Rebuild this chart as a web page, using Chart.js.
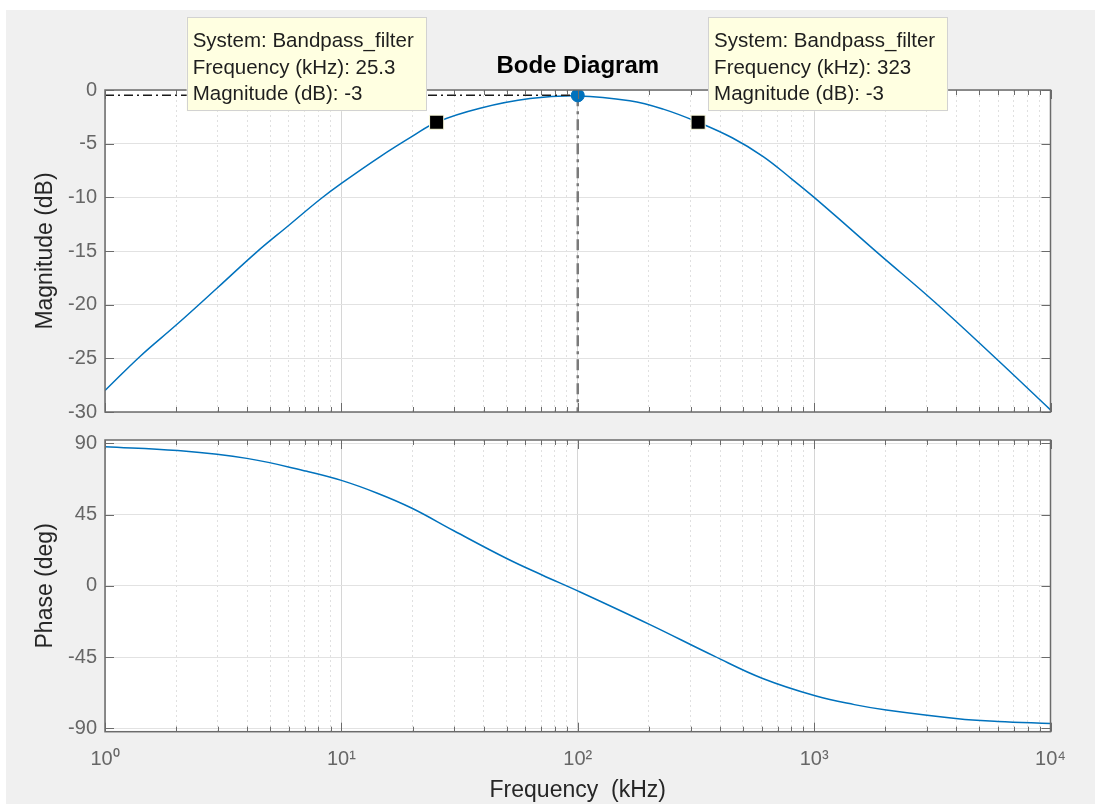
<!DOCTYPE html>
<html>
<head>
<meta charset="utf-8">
<title>Bode Diagram</title>
<script src="https://cdn.jsdelivr.net/npm/chart.js"></script>
<style>
  html, body { margin: 0; padding: 0; background: #fff; }
  body { width: 1095px; height: 805px; position: relative; overflow: hidden; }
  #fig { position: absolute; left: 6px; top: 10px; width: 1089px; height: 794px; background: #f0f0f0; }
  canvas { position: absolute; left: 0; }
  #magChart { top: 0; }
  #phaseChart { top: 420px; }
</style>
</head>
<body>
<div id="fig"></div>
<canvas id="magChart" width="1095" height="432"></canvas>
<canvas id="phaseChart" width="1095" height="385"></canvas>
<script>
// values (frequency in kHz)
const magFreq = [1, 1.41, 2, 3, 4.38, 6, 8.11, 10, 14.6, 20, 25.3, 38.6, 62.8, 100, 166, 230, 323, 450, 609, 800, 1000, 1400, 1862, 3235, 5806, 10000];
const magDb   = [-28, -24.8, -21.9, -18.4, -15.1, -12.6, -10.2, -8.7, -6.2, -4.3, -3, -1.7, -0.8, -0.55, -1, -1.78, -3, -4.45, -6.2, -8.25, -10, -12.8, -15.2, -19.75, -24.9, -29.8];

const phaseFreq = [1, 2.03, 3.98, 7.16, 10, 14.2, 19.9, 29.9, 50.3, 71, 101, 202, 378, 606, 1019, 1479, 2019, 4063, 5993, 10000];
const phaseDeg  = [87.9, 85.4, 80.5, 72.3, 66.6, 58.5, 49, 34.8, 17.1, 6.7, -3.5, -24.5, -44.4, -58.5, -69.6, -75, -78.4, -83.9, -85.6, -87];

const decades = [1, 10, 100, 1000, 10000];
const decadeLabels = ['10⁰', '10¹', '10²', '10³', '10⁴'];
const magTicks = [0, -5, -10, -15, -20, -25, -30];
const phaseTicks = [90, 45, 0, -45, -90];

const systemName = 'Bandpass_filter';
const tipFreq = [25.3, 323];
const tipDb = [-3, -3];
const peakFreq = 100;
const peakDb = -0.5;

const blue = '#0072BD';
const fontName = '"Liberation Sans", Arial, Helvetica, sans-serif';

// 1..9 x each decade
const logTicks = [];
decades.slice(0, -1).forEach(d => { for (let m = 1; m < 10; m++) logTicks.push(m * d); });
logTicks.push(decades[decades.length - 1]);

function pts(xs, ys) { return xs.map((x, i) => ({x: x, y: ys[i]})); }

const whiteArea = {
  id: 'whiteArea',
  beforeDraw(chart) {
    const {ctx, chartArea: a} = chart;
    ctx.save();
    ctx.fillStyle = '#fff';
    ctx.fillRect(a.left, a.top, a.right - a.left, a.bottom - a.top);
    ctx.restore();
  }
};

const matlabBox = {
  id: 'matlabBox',
  afterDraw(chart) {
    const {ctx, chartArea: a, scales} = chart;
    ctx.save();
    ctx.strokeStyle = '#6b6b6b';
    ctx.lineWidth = 1;
    const line = (x1, y1, x2, y2) => { ctx.beginPath(); ctx.moveTo(x1, y1); ctx.lineTo(x2, y2); ctx.stroke(); };
    scales.x.ticks.forEach(t => {
      const px = Math.round(scales.x.getPixelForValue(t.value)) + 0.5;
      const len = decades.includes(t.value) ? 9 : 5;
      line(px, a.bottom, px, a.bottom - len);
      line(px, a.top, px, a.top + len);
    });
    scales.y.ticks.forEach(t => {
      const py = Math.round(scales.y.getPixelForValue(t.value)) + 0.5;
      line(a.left, py, a.left + 9, py);
      line(a.right, py, a.right - 9, py);
    });
    ctx.lineWidth = 1.5;
    ctx.strokeRect(a.left, a.top, a.right - a.left, a.bottom - a.top);
    ctx.restore();
  }
};

const dataTips = {
  id: 'dataTips',
  afterDraw(chart) {
    const {ctx, scales: {x, y}} = chart;
    ctx.save();
    ctx.font = '20.5px ' + fontName;
    ctx.textBaseline = 'middle';
    tipFreq.forEach((f, i) => {
      const px = x.getPixelForValue(f);
      const py = y.getPixelForValue(tipDb[i]);
      const w = 240, h = 94;
      const bx = i === 0 ? px - 10 - w : px + 10;
      const by = py - 11 - h;
      ctx.fillStyle = '#ffffe1';
      ctx.fillRect(bx, by, w, h);
      ctx.strokeStyle = '#d2d2d2';
      ctx.lineWidth = 1;
      ctx.strokeRect(Math.round(bx) + 0.5, Math.round(by) + 0.5, w - 1, h - 1);
      ctx.fillStyle = '#1e1e1e';
      const lines = ['System: ' + systemName, 'Frequency (kHz): ' + f, 'Magnitude (dB): ' + tipDb[i]];
      lines.forEach((t, k) => ctx.fillText(t, bx + 6, by + 24 + k * 26.7));
    });
    ctx.restore();
  }
};

function xScales(showLabels, xHeight) {
  return {
    x: {
      type: 'logarithmic',
      min: 1,
      max: 10000,
      afterBuildTicks: s => { s.ticks = logTicks.map(v => ({value: v})); },
      afterFit: s => { s.height = xHeight; },
      grid: {
        drawTicks: false,
        color: c => decades.includes(c.tick && c.tick.value) ? '#d6d6d6' : 'rgba(0,0,0,0)'
      },
      border: { display: false },
      ticks: {
        display: showLabels,
        autoSkip: false,
        maxRotation: 0,
        padding: 16,
        color: '#666',
        font: { family: fontName, size: 20 },
        callback: v => {
          const k = decades.indexOf(v);
          return k >= 0 ? decadeLabels[k] : '';
        }
      },
      title: {
        display: showLabels,
        text: 'Frequency  (kHz)',
        color: '#262626',
        font: { family: fontName, size: 23 },
        padding: { top: 0, bottom: 1 }
      }
    },
    xm: {
      type: 'logarithmic',
      position: 'bottom',
      min: 1,
      max: 10000,
      afterBuildTicks: s => { s.ticks = logTicks.map(v => ({value: v})); },
      afterFit: s => { s.height = 0; },
      grid: {
        drawTicks: false,
        color: c => decades.includes(c.tick && c.tick.value) ? 'rgba(0,0,0,0)' : '#e0e0e0'
      },
      border: { display: false, dash: [2, 3] },
      ticks: { display: false }
    }
  };
}

function yScale(min, max, ticks, label) {
  return {
    min: min,
    max: max,
    afterBuildTicks: s => { s.ticks = ticks.map(v => ({value: v})); },
    afterFit: s => { s.width = 105; },
    grid: { drawTicks: false, color: '#e2e2e2' },
    border: { display: false },
    ticks: {
      padding: 8,
      color: '#666',
      font: { family: fontName, size: 20 }
    },
    title: {
      display: true,
      text: label,
      color: '#262626',
      font: { family: fontName, size: 23 },
      padding: { top: 32, bottom: 0 }
    }
  };
}

const magScales = xScales(false, 12.7);
magScales.y = yScale(-30, 0, magTicks, 'Magnitude (dB)');

new Chart(document.getElementById('magChart'), {
  type: 'line',
  data: {
    datasets: [{
      label: 'data tips',
      data: pts(tipFreq, tipDb),
      showLine: false,
      pointStyle: 'rect',
      pointRadius: 10,
      backgroundColor: '#000',
      borderColor: '#ffffe1',
      borderWidth: 1
    },
    {
      label: 'peak',
      data: [{x: peakFreq, y: peakDb}],
      showLine: false,
      pointRadius: 6.5,
      backgroundColor: blue,
      borderColor: blue
    },
    {
      label: 'peak frequency',
      data: [{x: peakFreq, y: peakDb}, {x: peakFreq, y: -30}],
      borderColor: '#7a7a7a',
      borderWidth: 2.5,
      borderDash: [11, 5, 3, 5],
      pointRadius: 0
    },
    {
      label: 'peak gain',
      data: [{x: 1, y: peakDb}, {x: peakFreq, y: peakDb}],
      borderColor: '#1a1a1a',
      borderWidth: 1.5,
      borderDash: [9, 4, 2, 4],
      pointRadius: 0
    },
    {
      label: 'Bandpass_filter',
      data: pts(magFreq, magDb),
      borderColor: blue,
      borderWidth: 1.5,
      pointRadius: 0,
      tension: 0.4
    }]
  },
  options: {
    responsive: false,
    animation: false,
    events: [],
    layout: { padding: { left: 0, right: 44.5, top: 0, bottom: 0 } },
    scales: magScales,
    plugins: {
      legend: { display: false },
      tooltip: { enabled: false },
      title: {
        display: true,
        text: 'Bode Diagram',
        fullSize: false,
        color: '#000',
        font: { family: fontName, size: 24, weight: 'bold' },
        padding: { top: 51.6, bottom: 9.6 }
      }
    }
  },
  plugins: [whiteArea, matlabBox, dataTips]
});

const phaseScales = xScales(true, 73.3);
phaseScales.y = yScale(-92.1, 92.1, phaseTicks, 'Phase (deg)');

new Chart(document.getElementById('phaseChart'), {
  type: 'line',
  data: {
    datasets: [{
      label: 'Bandpass_filter',
      data: pts(phaseFreq, phaseDeg),
      borderColor: blue,
      borderWidth: 1.5,
      pointRadius: 0,
      tension: 0.4
    }]
  },
  options: {
    responsive: false,
    animation: false,
    events: [],
    layout: { padding: { left: 0, right: 44.5, top: 18.3, bottom: 0 } },
    scales: phaseScales,
    plugins: {
      legend: { display: false },
      tooltip: { enabled: false }
    }
  },
  plugins: [whiteArea, matlabBox]
});
</script>
</body>
</html>
